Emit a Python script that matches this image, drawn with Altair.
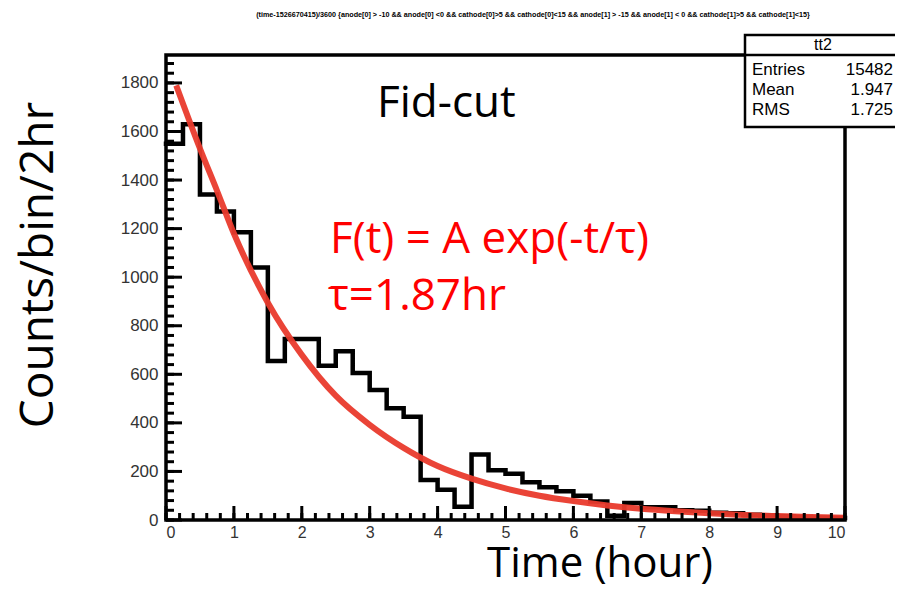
import altair as alt
import pandas as pd

# ---------------- data ----------------
bin_edges = [i * 0.25 for i in range(41)]          # 0 .. 10 hr, 0.25 hr bins
counts = [1550, 1630, 1340, 1270, 1185, 1040, 655, 745, 745, 635,
          695, 605, 535, 460, 425, 165, 125, 55, 270, 205,
          190, 155, 135, 118, 100, 76, 18, 70, 52, 52,
          40, 38, 30, 28, 22, 20, 15, 12, 10, 8]

fit_t = [0.15, 0.5, 0.75, 1.0, 1.5, 2.0, 2.5, 3.0, 3.5, 4.0, 4.5, 5.0,
         5.5, 6.0, 6.5, 7.0, 7.5, 8.0, 8.5, 9.0, 9.5, 10.0]
fit_val = [1790, 1530, 1357, 1180, 895, 680, 512, 392, 297, 222, 170, 130,
           100, 78, 60, 46, 36, 28, 21, 16, 12, 9]

x_major = [0, 1, 2, 3, 4, 5, 6, 7, 8, 9, 10]
y_major = [0, 200, 400, 600, 800, 1000, 1200, 1400, 1600, 1800]
x_minor = [i * 0.2 for i in range(51)]
y_minor = [i * 40 for i in range(48)]

stat_labels = ["Entries", "Mean", "RMS"]
stat_values = ["15482", "1.947", "1.725"]
hist_name = "tt2"

title_txt = ("(time-1526670415)/3600 {anode[0] > -10 && anode[0] <0 && cathode[0]>5 && "
             "cathode[0]<15 && anode[1] > -15 && anode[1] < 0 && cathode[1]>5 && cathode[1]<15}")

# ---------------- layout ----------------
W, H = 679, 465
XMAX, YMAX = 10, 1915
SANS = "Open Sans"
ROOTF = "Liberation Sans"
RED = "#e93a2c"

xs = alt.Scale(domain=[0, XMAX], nice=False, zero=False)
ys = alt.Scale(domain=[0, YMAX], nice=False, zero=False)

hist_df = pd.DataFrame({"t": bin_edges, "n": counts + [counts[-1]]})
fit_df = pd.DataFrame({"t": fit_t, "n": fit_val})

hist = alt.Chart(hist_df).mark_line(
    interpolate="step-after", color="black", strokeWidth=4.5, strokeJoin="miter", strokeCap="square"
).encode(
    x=alt.X("t:Q", scale=xs, axis=alt.Axis(
        values=x_major, format="d", ticks=False, domain=False, grid=False, title=None,
        labelFont=ROOTF, labelFontSize=16, labelColor="#333", labelPadding=4, labelOverlap=False)),
    y=alt.Y("n:Q", scale=ys, axis=alt.Axis(
        values=y_major, format="d", ticks=False, domain=False, grid=False, title=None,
        labelFont=ROOTF, labelFontSize=17, labelColor="#333", labelPadding=8, labelOverlap=False)),
)

fit = alt.Chart(fit_df).mark_line(
    interpolate="monotone", color=RED, strokeWidth=6, opacity=0.95
).encode(x=alt.X("t:Q", scale=xs), y=alt.Y("n:Q", scale=ys))

frame = alt.Chart(pd.DataFrame({"a": [0]})).mark_rect(
    fill="transparent", stroke="black", strokeWidth=3.5
).encode(x=alt.value(0), x2=alt.value(W), y=alt.value(0), y2=alt.value(H))

ytick_major = alt.Chart(pd.DataFrame({"n": y_major})).mark_rule(color="black", strokeWidth=3).encode(
    y=alt.Y("n:Q", scale=ys), x=alt.value(0), x2=alt.value(16))
ytick_minor = alt.Chart(pd.DataFrame({"n": y_minor})).mark_rule(color="black", strokeWidth=3).encode(
    y=alt.Y("n:Q", scale=ys), x=alt.value(0), x2=alt.value(8))
xtick_major = alt.Chart(pd.DataFrame({"t": x_major})).mark_rule(color="black", strokeWidth=3).encode(
    x=alt.X("t:Q", scale=xs), y=alt.value(H), y2=alt.value(H - 14))
xtick_minor = alt.Chart(pd.DataFrame({"t": x_minor})).mark_rule(color="black", strokeWidth=3).encode(
    x=alt.X("t:Q", scale=xs), y=alt.value(H), y2=alt.value(H - 7))

def txt(s, x, y, size, color="black", font=SANS, align="left", baseline="alphabetic",
        angle=0, weight="normal"):
    kw = dict(align=align, baseline=baseline, fontSize=size, font=font, color=color,
              fontWeight=weight)
    if angle:
        kw["angle"] = angle
    return alt.Chart(pd.DataFrame({"s": [s]})).mark_text(**kw).encode(
        text="s:N", x=alt.value(x), y=alt.value(y))

title = txt(title_txt, 367, -40, 7.2, font=ROOTF, align="center", baseline="middle", weight="bold")
fidcut = txt("Fid-cut", 211, 62, 44)
formula = txt("F(t) = A exp(-t/τ)", 164, 198, 44, color="red")
tau = txt("τ=1.87hr", 162, 255, 44, color="red")
ytitle = txt("Counts/bin/2hr", -127, 210, 46, align="center", baseline="middle", angle=270)
xtitle = txt("Time (hour)", 434, 522, 42, align="center", baseline="alphabetic")

box = alt.Chart(pd.DataFrame({"a": [0]})).mark_rect(
    fill="white", stroke="black", strokeWidth=2.5
).encode(x=alt.value(579), x2=alt.value(745), y=alt.value(-20), y2=alt.value(72))
box_sep = alt.Chart(pd.DataFrame({"a": [0]})).mark_rule(color="black", strokeWidth=2.5).encode(
    x=alt.value(579), x2=alt.value(745), y=alt.value(0))
box_name = txt(hist_name, 657, -10, 16, font=ROOTF, align="center", baseline="middle")

stat_df = pd.DataFrame({"lab": stat_labels, "val": stat_values, "yy": [15, 35, 55]})
stat_l = alt.Chart(stat_df).mark_text(align="left", baseline="middle", font=ROOTF, fontSize=17,
                                      color="black").encode(
    text="lab:N", x=alt.value(586), y=alt.Y("yy:Q", scale=None))
stat_v = alt.Chart(stat_df).mark_text(align="right", baseline="middle", font=ROOTF, fontSize=17,
                                      color="black").encode(
    text="val:N", x=alt.value(727), y=alt.Y("yy:Q", scale=None))

chart = alt.layer(
    hist, fit, frame, ytick_minor, ytick_major, xtick_minor, xtick_major,
    title, fidcut, formula, tau, ytitle, xtitle,
    box, box_sep, box_name, stat_l, stat_v,
).properties(
    width=W, height=H,
    autosize=alt.AutoSizeParams(type="none"),
    padding={"left": 158, "top": 47, "right": 50, "bottom": 65},
).configure_view(stroke=None).configure(background="white")

chart.save("out.html", embed_options={"renderer": "svg", "actions": False})
